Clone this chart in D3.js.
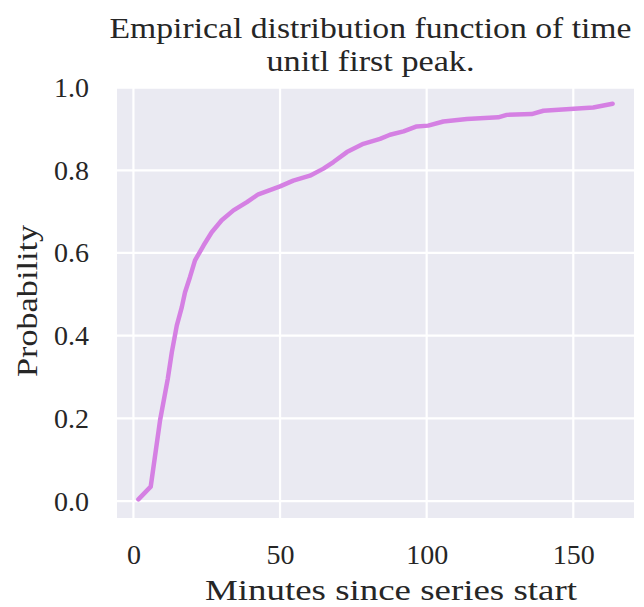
<!DOCTYPE html>
<html>
<head>
<meta charset="utf-8">
<script src="https://cdn.jsdelivr.net/npm/d3@7"></script>
<style>
  body { margin: 0; background: #fff; }
  text { font-family: "Liberation Serif", "DejaVu Serif", serif; fill: #262626; }
</style>
</head>
<body>
<div id="chart"></div>
<script>
// ECDF of minutes until first peak
const minutes = [1.7, 5.9, 9.1, 11.7, 13.1, 14.8, 16.5, 17.6, 19.3, 21, 23.9, 26.7, 30.1, 34.1,
  38.7, 42.6, 47.7, 50, 54.5, 60.2, 64.8, 68.2, 72.8, 78.4, 84.1, 87.5, 92.1, 96.6, 100.5, 105.7,
  113.7, 124.4, 127.3, 135.8, 139.8, 148.9, 156.8, 163.4];
const probability = [0.004, 0.035, 0.196, 0.295, 0.36, 0.425, 0.469, 0.505, 0.542, 0.582, 0.618, 0.65, 0.679, 0.703,
  0.723, 0.742, 0.755, 0.761, 0.775, 0.787, 0.804, 0.82, 0.844, 0.864, 0.876, 0.886, 0.894, 0.906, 0.908, 0.918,
  0.924, 0.928, 0.934, 0.936, 0.944, 0.948, 0.952, 0.961];
const xTicks = [0, 50, 100, 150];
const yTicks = [0.0, 0.2, 0.4, 0.6, 0.8, 1.0];

const W = 644, H = 607;
const margin = { top: 88, right: 10, bottom: 89, left: 117 };
const width = W - margin.left - margin.right;
const height = H - margin.top - margin.bottom;

const svg = d3.select("#chart").append("svg")
    .attr("width", W)
    .attr("height", H);

const g = svg.append("g")
    .attr("transform", "translate(" + margin.left + "," + margin.top + ")");

const x = d3.scaleLinear().domain([-5.6, 170.7]).range([0, width]);
const y = d3.scaleLinear().domain([-0.041, 0.999]).range([height, 0]);

// background
g.append("rect")
    .attr("width", width)
    .attr("height", height)
    .attr("fill", "#eaeaf2");

// grid
g.selectAll(".gx").data(xTicks).enter().append("line")
    .attr("x1", d => x(d)).attr("x2", d => x(d))
    .attr("y1", 0).attr("y2", height)
    .attr("stroke", "#fff").attr("stroke-width", 2.2);
g.selectAll(".gy").data(yTicks).enter().append("line")
    .attr("x1", 0).attr("x2", width)
    .attr("y1", d => y(d)).attr("y2", d => y(d))
    .attr("stroke", "#fff").attr("stroke-width", 2.2);

// axes (labels only, seaborn style)
const xAxis = g.append("g")
    .attr("transform", "translate(0," + height + ")")
    .call(d3.axisBottom(x).tickValues(xTicks).tickSize(0).tickPadding(26).tickFormat(d3.format("d")));
const yAxis = g.append("g")
    .call(d3.axisLeft(y).tickValues(yTicks).tickSize(0).tickPadding(28).tickFormat(d3.format(".1f")));
[xAxis, yAxis].forEach(a => {
    a.select(".domain").remove();
    a.selectAll("text").style("font-size", "28px").attr("fill", "#262626")
        .style("font-family", '"Liberation Serif", serif');
});

// ECDF line
const pts = minutes.map((m, i) => [m, probability[i]]);
g.append("path")
    .datum(pts)
    .attr("fill", "none")
    .attr("stroke", "#d580e3")
    .attr("stroke-width", 4.5)
    .attr("stroke-linejoin", "round")
    .attr("stroke-linecap", "round")
    .attr("d", d3.line().x(d => x(d[0])).y(d => y(d[1])));

// title
const cx = margin.left + width / 2 - 5;
const title = svg.append("text")
    .attr("text-anchor", "middle")
    .style("font-size", "29px");
title.append("tspan").attr("x", cx).attr("y", 38)
    .attr("textLength", 522).attr("lengthAdjust", "spacingAndGlyphs")
    .text("Empirical distribution function of time");
title.append("tspan").attr("x", cx).attr("y", 71)
    .attr("textLength", 208).attr("lengthAdjust", "spacingAndGlyphs")
    .text("unitl first peak.");

// axis labels
svg.append("text")
    .attr("x", 391)
    .attr("y", 600)
    .attr("text-anchor", "middle")
    .style("font-size", "29px")
    .attr("textLength", 372).attr("lengthAdjust", "spacingAndGlyphs")
    .text("Minutes since series start");

svg.append("text")
    .attr("transform", "translate(37,301) rotate(-90)")
    .attr("text-anchor", "middle")
    .style("font-size", "29px")
    .attr("textLength", 152).attr("lengthAdjust", "spacingAndGlyphs")
    .text("Probability");
</script>
</body>
</html>
